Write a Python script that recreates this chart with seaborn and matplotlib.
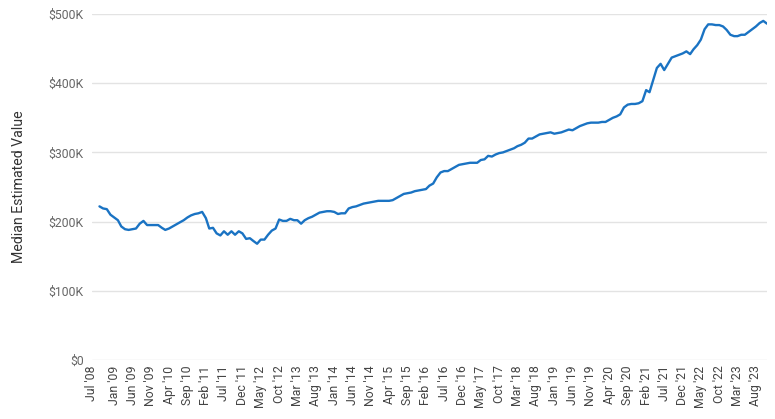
import numpy as np
import pandas as pd
import matplotlib.pyplot as plt
import seaborn as sns

# Monthly median estimated value (in $K), Sep 2008 - Nov 2023
values_k = [
    222, 219, 218, 210, 206, 202, 193, 189, 188, 189,
    190, 197, 201, 195, 195, 195, 195, 191, 188, 190,
    193, 196, 199, 202, 206, 209, 211, 212, 214, 205,
    190, 191, 183, 180, 186, 181, 186, 181, 186, 183,
    175, 176, 172, 168, 174, 174, 181, 187, 190, 203,
    201, 201, 204, 202, 202, 197, 202, 205, 207, 210,
    213, 214, 215, 215, 214, 211, 212, 212, 219, 221,
    222, 224, 226, 227, 228, 229, 230, 230, 230, 230,
    231, 234, 237, 240, 241, 242, 244, 245, 246, 247,
    252, 255, 264, 271, 273, 273, 276, 279, 282, 283,
    284, 285, 285, 285, 289, 290, 295, 294, 297, 299,
    300, 302, 304, 306, 309, 311, 314, 320, 320, 323,
    326, 327, 328, 329, 327, 328, 329, 331, 333, 332,
    335, 338, 340, 342, 343, 343, 343, 344, 344, 347,
    350, 352, 355, 365, 369, 370, 370, 371, 374, 390,
    387, 405, 422, 428, 419, 428, 437, 439, 441, 443,
    446, 442, 449, 455, 463, 478, 485, 485, 484, 484,
    482, 477, 470, 468, 468, 470, 470, 474, 478, 482,
    487, 490, 486,
]
months = pd.date_range("2008-09-01", periods=len(values_k), freq="MS")

tick_dates = pd.to_datetime(["2008-07-01"]).append(
    pd.date_range("2009-01-01", "2023-08-01", freq="5MS"))
tick_labels = [d.strftime("%b '%y") for d in tick_dates]

y_ticks = [0, 100000, 200000, 300000, 400000, 500000]
y_labels = ["$0", "$100K", "$200K", "$300K", "$400K", "$500K"]

df = pd.DataFrame({"month": months, "value": np.array(values_k) * 1000})

sns.set_style("white")
plt.rcParams['font.family'] = ['Roboto', 'DejaVu Sans']

fig = plt.figure(figsize=(7.75, 4.19), dpi=100)
ax = fig.add_axes([0.1187, 0.1408, 0.871, 0.8258])
sns.lineplot(data=df, x="month", y="value", color="#1a73c3", linewidth=1.7, ax=ax)

ax.set_xlim(pd.Timestamp("2008-07-01"), months[-1])
ax.set_ylim(0, 500000)
ax.set_xticks(tick_dates)
ax.set_xticklabels(tick_labels, rotation=90, fontsize=8.8, color="#444444")
ax.set_yticks(y_ticks)
ax.set_yticklabels(y_labels, fontsize=8.8, color="#666666")
ax.tick_params(axis="both", length=0, pad=6)
ax.tick_params(axis="x", pad=4)
ax.set_xlabel("")
ax.set_ylabel("Median Estimated Value", fontsize=10.2, color="#333333", labelpad=16)
ax.grid(axis="y", color="#e3e3e3", linewidth=1)
ax.grid(axis="x", visible=False)
for s in ax.spines.values():
    s.set_visible(False)

fig.savefig("out.png", dpi=100)
